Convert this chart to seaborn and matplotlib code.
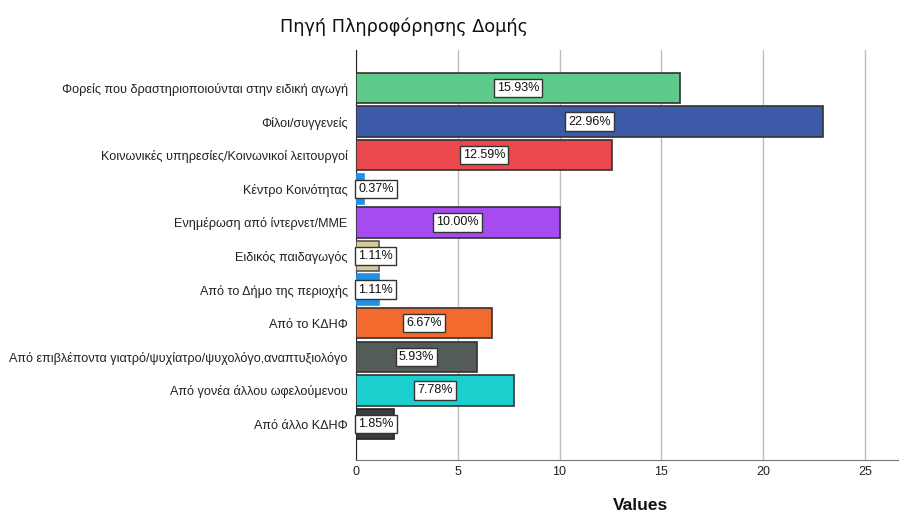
import matplotlib
matplotlib.use("Agg")
import matplotlib.pyplot as plt
import seaborn as sns
import pandas as pd

categories = [
    "Φορείς που δραστηριοποιούνται στην ειδική αγωγή",
    "Φίλοι/συγγενείς",
    "Κοινωνικές υπηρεσίες/Κοινωνικοί λειτουργοί",
    "Κέντρο Κοινότητας",
    "Ενημέρωση από ίντερνετ/ΜΜΕ",
    "Ειδικός παιδαγωγός",
    "Από το Δήμο της περιοχής",
    "Από το ΚΔΗΦ",
    "Από επιβλέποντα γιατρό/ψυχίατρο/ψυχολόγο,αναπτυξιολόγο",
    "Από γονέα άλλου ωφελούμενου",
    "Από άλλο ΚΔΗΦ",
]
values = [15.93, 22.96, 12.59, 0.37, 10.00, 1.11, 1.11, 6.67, 5.93, 7.78, 1.85]
colors = ["#5ECB8B", "#3D5AA8", "#EA484C", "#1E90E8", "#A64BEF", "#D4CC94",
          "#1E90E8", "#F26A2E", "#545C58", "#1CCFCF", "#3C3C3C"]
edges = ["#333333", "#333333", "#333333", "#1E90E8", "#333333", "#555555",
         "#1E90E8", "#333333", "#333333", "#333333", "#222222"]

sns.set_style("white")
plt.rcParams["font.family"] = ["Liberation Sans", "DejaVu Sans"]

df = pd.DataFrame({"cat": categories, "val": values})

fig = plt.figure(figsize=(9.13, 5.12), dpi=100)
ax = fig.add_axes([356/913, 1-460/512, (898-356)/913, (460-50)/512])

sns.barplot(data=df, y="cat", x="val", hue="cat", palette=colors, order=categories,
            hue_order=categories, legend=False, width=0.9, orient="h", ax=ax,
            linewidth=1.2, saturation=1, zorder=3)

for patch, ec in zip(ax.patches, edges):
    patch.set_edgecolor(ec)
    patch.set_linewidth(1.2)

ax.set_xlim(0, 26.63)
ax.set_ylim(len(categories) - 1 + 1.07, -1.13)
ax.set_xticks([0, 5, 10, 15, 20, 25])
ax.set_xticklabels(["0", "5", "10", "15", "20", "25"], fontsize=9, color="#222222")
ax.tick_params(axis="y", labelsize=9.1, length=0, pad=6, labelcolor="#222222")
ax.tick_params(axis="x", length=0, pad=4)
ax.set_ylabel("")
ax.set_xlabel("")
ax.grid(axis="x", color="#bdbdbd", linewidth=1, zorder=0)
ax.grid(axis="y", visible=False)
ax.set_axisbelow(True)
for s in ["top", "right"]:
    ax.spines[s].set_visible(False)
ax.spines["left"].set_color("#222222")
ax.spines["bottom"].set_color("#777777")

for i, v in enumerate(values):
    box = dict(boxstyle="square,pad=0.25", facecolor="white", edgecolor="#333333", linewidth=1)
    if v < 3:
        ax.text(0.12, i, f"{v:.2f}%", ha="left", va="center", fontsize=9,
                bbox=box, zorder=5, color="#111111")
    else:
        ax.text(v / 2, i, f"{v:.2f}%", ha="center", va="center", fontsize=9,
                bbox=box, zorder=5, color="#111111")

fig.text(280/913, 1-27/512, "Πηγή Πληροφόρησης Δομής", ha="left", va="center",
         fontsize=12.7, family=["DejaVu Sans"], color="#111111")
fig.text(640/913, 1-505/512, "Values", ha="center", va="center",
         fontsize=12.5, fontweight="bold", color="#111111")

fig.savefig("out.png", dpi=100)
